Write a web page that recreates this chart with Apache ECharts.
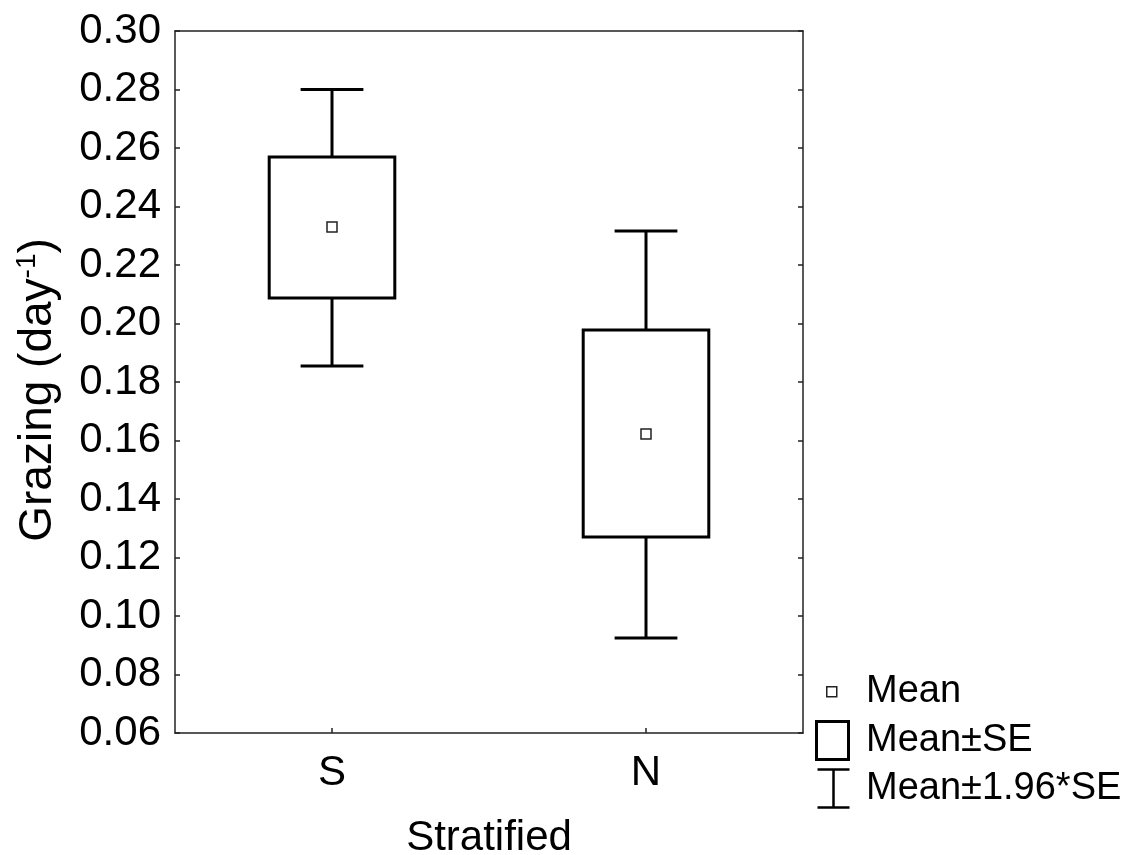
<!DOCTYPE html>
<html>
<head>
<meta charset="utf-8">
<script src="https://cdn.jsdelivr.net/npm/echarts@6/dist/echarts.min.js"></script>
<style>
  html, body { margin: 0; padding: 0; background: #ffffff; }
  #chart { width: 1143px; height: 855px; }
</style>
</head>
<body>
<div id="chart"></div>
<script>
// Grazing rate by stratification: mean, mean ± SE, mean ± 1.96*SE
const categories = ['S', 'N'];
const means  = [0.2330, 0.1622];
const seLow  = [0.2087, 0.1270];
const seHigh = [0.2569, 0.1978];
const ciLow  = [0.1855, 0.0925];
const ciHigh = [0.2800, 0.2316];

const yMin = 0.06;
const yMax = 0.30;
const yStep = 0.02;

const legendLabels = ['Mean', 'Mean\u00B1SE', 'Mean\u00B11.96*SE'];

const FONT = '"Liberation Sans", Arial, sans-serif';

const rows = categories.map((c, i) => [i, ciLow[i], seLow[i], means[i], seHigh[i], ciHigh[i]]);

const chart = echarts.init(document.getElementById('chart'), null, { renderer: 'canvas' });

function renderItem(params, api) {
  const idx = api.value(0);
  const band = api.size([1, 0])[0];
  const boxW = band * 0.40;
  const capW = band * 0.20;
  const pLo = api.coord([idx, api.value(1)]);
  const pSeLo = api.coord([idx, api.value(2)]);
  const pMean = api.coord([idx, api.value(3)]);
  const pSeHi = api.coord([idx, api.value(4)]);
  const pHi = api.coord([idx, api.value(5)]);
  const x = pMean[0];
  const lineStyle = { stroke: '#000', lineWidth: 3, fill: null };
  return {
    type: 'group',
    children: [
      { type: 'line', shape: { x1: x, y1: pHi[1], x2: x, y2: pSeHi[1] }, style: lineStyle },
      { type: 'line', shape: { x1: x - capW / 2, y1: pHi[1], x2: x + capW / 2, y2: pHi[1] }, style: lineStyle },
      { type: 'line', shape: { x1: x, y1: pLo[1], x2: x, y2: pSeLo[1] }, style: lineStyle },
      { type: 'line', shape: { x1: x - capW / 2, y1: pLo[1], x2: x + capW / 2, y2: pLo[1] }, style: lineStyle },
      { type: 'rect', shape: { x: x - boxW / 2, y: pSeHi[1], width: boxW, height: pSeLo[1] - pSeHi[1] },
        style: { stroke: '#000', lineWidth: 3, fill: '#fff' } },
      { type: 'rect', shape: { x: x - 5, y: pMean[1] - 5, width: 10, height: 10 },
        style: { stroke: '#222', lineWidth: 1.5, fill: '#fff' } }
    ]
  };
}

const option = {
  backgroundColor: '#ffffff',
  animation: false,
  grid: { left: 175, top: 31, right: 340, bottom: 122, containLabel: false, outerBoundsMode: 'none' },
  xAxis: [
    {
      type: 'category',
      data: categories,
      position: 'bottom',
      boundaryGap: true,
      name: 'Stratified',
      nameLocation: 'middle',
      nameGap: 84,
      nameTextStyle: { fontFamily: FONT, fontSize: 42, color: '#000' },
      axisLine: { show: true, lineStyle: { color: '#222', width: 1.5 } },
      axisTick: { show: true, inside: true, alignWithLabel: true, length: 5, lineStyle: { color: '#222', width: 1.5 } },
      axisLabel: { fontFamily: FONT, fontSize: 42, color: '#000', margin: 19 },
      splitLine: { show: false }
    },
    {
      type: 'category',
      data: categories,
      position: 'top',
      axisLine: { show: true, lineStyle: { color: '#222', width: 1.5 } },
      axisTick: { show: false },
      axisLabel: { show: false },
      splitLine: { show: false }
    }
  ],
  yAxis: [
    {
      type: 'value',
      position: 'left',
      min: yMin,
      max: yMax,
      interval: yStep,
      name: '{a|Grazing (day}{s|-1}{a|)}',
      nameLocation: 'middle',
      nameGap: 112,
      nameRotate: 90,
      nameTextStyle: {
        padding: [0, 16, 0, 0],
        rich: {
          a: { fontFamily: FONT, fontSize: 46, color: '#000' },
          s: { fontFamily: FONT, fontSize: 28, color: '#000', padding: [0, 0, 22, 0] }
        }
      },
      axisLine: { show: true, lineStyle: { color: '#222', width: 1.5 } },
      axisTick: { show: true, inside: true, length: 5, lineStyle: { color: '#222', width: 1.5 } },
      axisLabel: {
        fontFamily: FONT, fontSize: 42, color: '#000', margin: 14,
        formatter: v => v.toFixed(2)
      },
      splitLine: { show: false }
    },
    {
      type: 'value',
      position: 'right',
      min: yMin,
      max: yMax,
      interval: yStep,
      axisLine: { show: true, lineStyle: { color: '#222', width: 1.5 } },
      axisTick: { show: true, inside: true, length: 5, lineStyle: { color: '#222', width: 1.5 } },
      axisLabel: { show: false },
      splitLine: { show: false }
    }
  ],
  series: [
    {
      type: 'custom',
      renderItem: renderItem,
      data: rows,
      encode: { x: 0, y: [1, 2, 3, 4, 5] },
      clip: false
    }
  ],
  graphic: [
    // key: mean marker
    { type: 'rect', left: 826, top: 686, shape: { width: 10, height: 10 },
      style: { stroke: '#222', lineWidth: 1.5, fill: '#fff' } },
    { type: 'text', left: 866, top: 673, style: { text: legendLabels[0], font: '38px ' + FONT, fill: '#000' } },
    // key: SE box
    { type: 'rect', left: 815, top: 720, shape: { width: 32, height: 38 },
      style: { stroke: '#000', lineWidth: 3, fill: '#fff' } },
    { type: 'text', left: 866, top: 722, style: { text: legendLabels[1], font: '38px ' + FONT, fill: '#000' } },
    // key: 1.96*SE whisker
    { type: 'group', left: 815, top: 767, children: [
      { type: 'line', shape: { x1: 0, y1: 1, x2: 32, y2: 1 }, style: { stroke: '#000', lineWidth: 2.5 } },
      { type: 'line', shape: { x1: 16, y1: 1, x2: 16, y2: 39 }, style: { stroke: '#000', lineWidth: 2.5 } },
      { type: 'line', shape: { x1: 0, y1: 39, x2: 32, y2: 39 }, style: { stroke: '#000', lineWidth: 2.5 } }
    ] },
    { type: 'text', left: 866, top: 770, style: { text: legendLabels[2], font: '38px ' + FONT, fill: '#000' } }
  ]
};

chart.setOption(option);
</script>
</body>
</html>
